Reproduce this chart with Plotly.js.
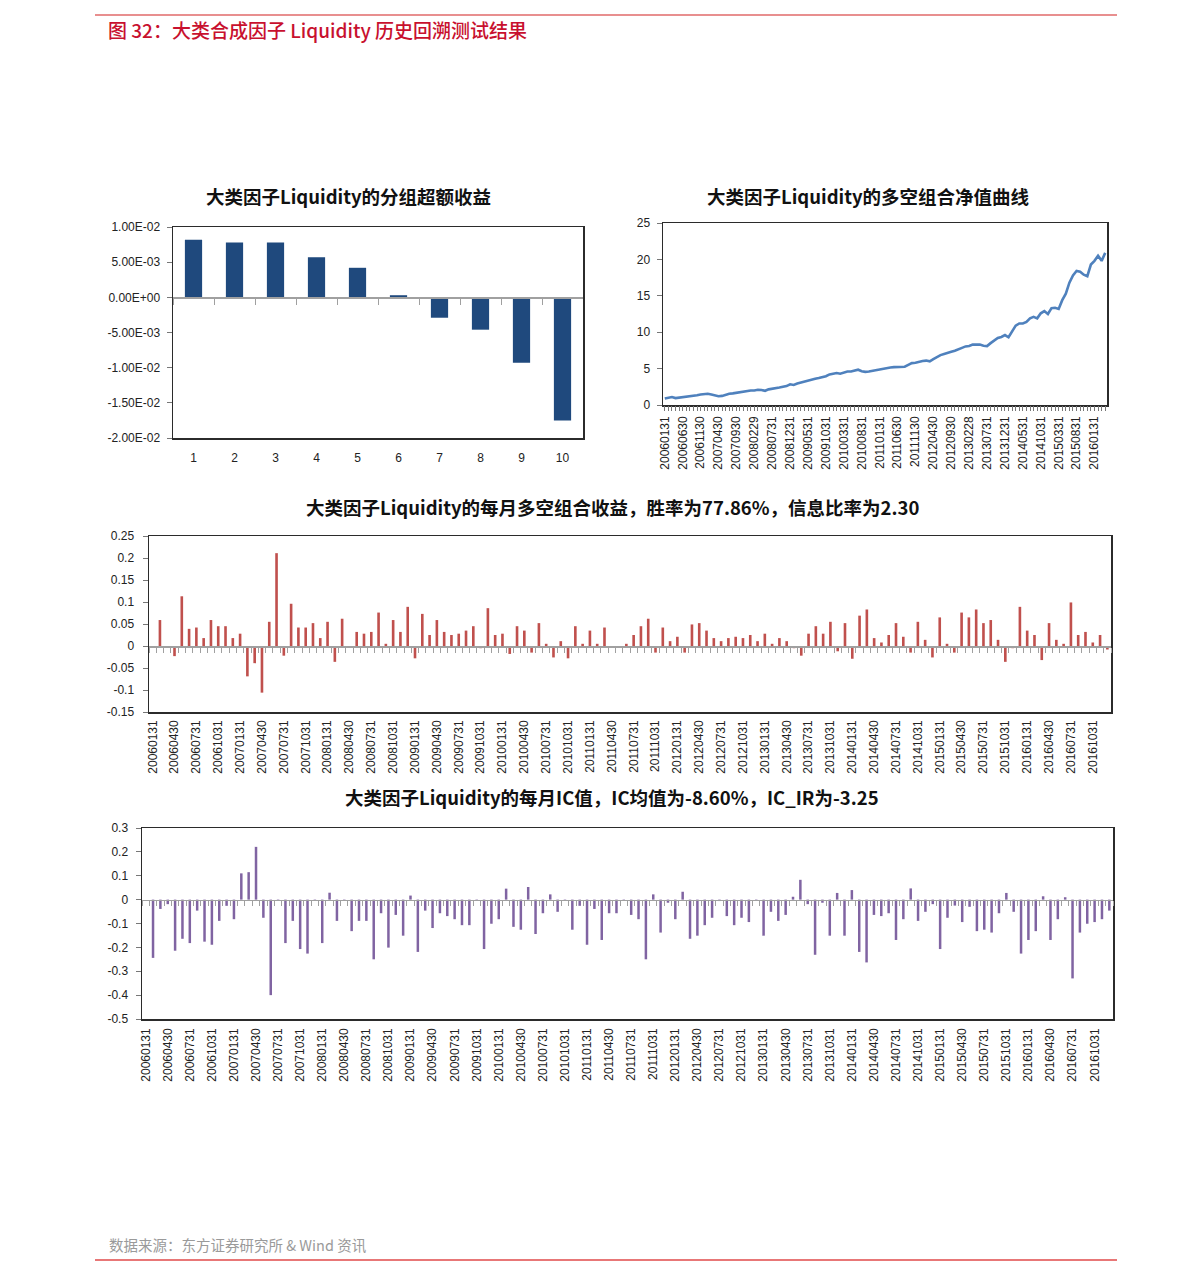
<!DOCTYPE html>
<html><head><meta charset="utf-8">
<script src="https://cdn.plot.ly/plotly-3.0.1.min.js"></script>
<style>html,body{margin:0;padding:0;background:#fff}#chart{width:1191px;height:1273px}</style>
</head><body><div id="chart"></div>
<script>
// ---------------- data ----------------
const groupLabels = ['1','2','3','4','5','6','7','8','9','10'];
const groupExcess = [0.0082, 0.0078, 0.0078, 0.0057, 0.0042, 0.0003, -0.0029, -0.0046, -0.0093, -0.0175];
const groupTickVals = [0.01, 0.005, 0, -0.005, -0.01, -0.015, -0.02];
const groupTickText = ['1.00E-02','5.00E-03','0.00E+00','-5.00E-03','-1.00E-02','-1.50E-02','-2.00E-02'];

const navValues = [
 0.9,1.0,1.1,0.95,1.0,1.1,1.15,1.2,1.3,1.35,
 1.45,1.5,1.55,1.45,1.3,1.2,1.25,1.45,1.55,1.6,
 1.7,1.75,1.9,1.95,2.0,2.0,2.1,2.05,1.95,2.15,
 2.2,2.25,2.4,2.5,2.6,2.85,2.75,2.95,3.1,3.25,
 3.35,3.45,3.6,3.7,3.8,3.95,4.2,4.3,4.4,4.3,
 4.45,4.6,4.6,4.75,4.85,4.65,4.55,4.6,4.7,4.85,
 4.85,4.95,5.05,5.15,5.2,5.2,5.2,5.25,5.5,5.75,
 5.8,5.95,6.05,6.1,6.0,6.3,6.6,6.85,7.0,7.1,
 7.3,7.45,7.6,7.85,8.05,8.1,8.3,8.35,8.3,8.15,
 8.1,8.5,8.85,9.2,9.35,9.6,9.3,10.2,10.9,11.2,
 11.2,11.4,11.9,12.1,11.9,12.6,12.9,12.5,13.3,13.35,
 13.2,14.4,15.3,16.8,17.8,18.4,18.3,17.9,17.7,19.3,
 19.8,20.5,19.8,20.9
];
const navTickVals = [0,5,10,15,20,25];
const navTickText = ['0','5','10','15','20','25'];

const monthlyReturn = [null,
 0.059,0.0,-0.023,0.113,0.039,0.042,0.018,0.059,0.045,0.045,
 0.018,0.028,-0.069,-0.039,-0.106,0.055,0.211,-0.022,0.096,0.042,
 0.042,0.052,0.018,0.055,-0.036,0.062,0.0,0.032,0.028,0.032,
 0.076,0.005,0.059,0.032,0.089,-0.028,0.073,0.025,0.059,0.032,
 0.025,0.028,0.035,0.045,-0.005,0.086,0.025,0.028,-0.018,0.045,
 0.035,-0.015,0.052,0.005,-0.026,0.011,-0.028,0.045,0.005,0.035,
 0.005,0.042,0.0,0.0,0.005,0.025,0.045,0.062,-0.015,0.042,
 0.011,0.021,-0.015,0.049,0.052,0.035,0.018,0.011,0.018,0.021,
 0.018,0.025,0.011,0.028,0.005,0.018,0.011,-0.005,-0.022,0.028,
 0.045,0.028,0.055,-0.012,0.052,-0.029,0.069,0.083,0.018,0.008,
 0.025,0.052,0.021,-0.015,0.055,0.014,-0.026,0.065,0.005,-0.015,
 0.076,0.065,0.083,0.052,0.059,0.014,-0.036,-0.005,0.089,0.035,
 0.025,-0.032,0.052,0.014,0.005,0.099,0.025,0.032,0.008,0.025,-0.008
];
const retTickVals = [0.25,0.2,0.15,0.1,0.05,0,-0.05,-0.1,-0.15];
const retTickText = ['0.25','0.2','0.15','0.1','0.05','0','-0.05','-0.1','-0.15'];

const monthlyIC = [null,
 -0.244,-0.039,-0.019,-0.214,-0.164,-0.182,-0.046,-0.176,-0.189,-0.089,
 -0.026,-0.082,0.110,0.115,0.221,-0.076,-0.400,-0.005,-0.182,-0.089,
 -0.207,-0.226,-0.005,-0.182,0.029,-0.089,-0.005,-0.132,-0.089,-0.089,
 -0.250,-0.057,-0.201,-0.064,-0.151,0.017,-0.219,-0.046,-0.119,-0.057,
 -0.069,-0.082,-0.107,-0.107,-0.005,-0.207,-0.101,-0.082,0.046,-0.114,
 -0.126,0.053,-0.144,-0.057,0.022,-0.051,-0.005,-0.126,-0.026,-0.189,
 -0.039,-0.169,-0.057,-0.057,-0.005,-0.064,-0.082,-0.250,0.022,-0.138,
 -0.013,-0.082,0.033,-0.164,-0.151,-0.107,-0.076,-0.006,-0.069,-0.107,
 -0.076,-0.094,-0.003,-0.151,-0.051,-0.089,-0.064,0.012,0.083,-0.019,
 -0.231,-0.013,-0.151,0.028,-0.151,0.040,-0.219,-0.263,-0.064,-0.069,
 -0.057,-0.169,-0.082,0.047,-0.089,-0.051,-0.019,-0.207,-0.076,-0.025,
 -0.094,-0.030,-0.132,-0.126,-0.138,-0.057,0.028,-0.051,-0.226,-0.169,
 -0.132,0.014,-0.169,-0.082,0.010,-0.330,-0.138,-0.101,-0.094,-0.082,-0.046
];
const icTickVals = [0.3,0.2,0.1,0,-0.1,-0.2,-0.3,-0.4,-0.5];
const icTickText = ['0.3','0.2','0.1','0','-0.1','-0.2','-0.3','-0.4','-0.5'];

function monthEnds(startYear, n) {
  const out = [];
  for (let k = 0; k < n; k++) {
    const y = startYear + Math.floor(k / 12);
    const m = k % 12 + 1;
    const d = new Date(Date.UTC(y, m, 0)).getUTCDate();
    out.push(String(y) + String(m).padStart(2, '0') + String(d).padStart(2, '0'));
  }
  return out;
}
const navDates = monthEnds(2006, navValues.length);
const monthDates = monthEnds(2006, monthlyReturn.length);

const titles = {
  header: '图 32：大类合成因子 Liquidity 历史回溯测试结果',
  c1: '大类因子Liquidity的分组超额收益',
  c2: '大类因子Liquidity的多空组合净值曲线',
  c3: '大类因子Liquidity的每月多空组合收益，胜率为77.86%，信息比率为2.30',
  c4: '大类因子Liquidity的每月IC值，IC均值为-8.60%，IC_IR为-3.25',
  source: '数据来源：东方证券研究所 &amp; Wind 资讯'
};

// ---------------- layout helpers ----------------
const W = 1191, H = 1273;
const fx = px => px / W;
const fy = py => 1 - py / H;
const zeroPos = (dom, rng) => dom[0] + (0 - rng[0]) / (rng[1] - rng[0]) * (dom[1] - dom[0]);

const d1x = [fx(173), fx(583)], d1y = [fy(438), fy(227)], r1 = [-0.02, 0.01];
const d2x = [fx(663), fx(1107)], d2y = [fy(405), fy(223)], r2 = [0, 25];
const d3x = [fx(149), fx(1111)], d3y = [fy(712), fy(536)], r3 = [-0.15, 0.25];
const d4x = [fx(142), fx(1113)], d4y = [fy(1019), fy(828)], r4 = [-0.5, 0.3];

const FRAME = '#2b2b2b', AXGRAY = '#a0a0a0';
const tickFont = {family: 'Liberation Sans, Arial, sans-serif', size: 12, color: '#222'};

function frameX(dom, anchor, extra) {
  return Object.assign({domain: dom, anchor: anchor, type: 'category', showline: true, linecolor: FRAME,
    linewidth: 1.5, mirror: true, ticks: '', showgrid: false, zeroline: false, fixedrange: true,
    tickfont: tickFont}, extra);
}
function frameY(dom, anchor, rng, tv, tt, extra) {
  return Object.assign({domain: dom, anchor: anchor, range: rng, tickmode: 'array', tickvals: tv, ticktext: tt,
    showline: true, linecolor: FRAME, linewidth: 1.5, mirror: true, ticks: 'outside', ticklen: 5,
    tickcolor: '#777', showgrid: false, zeroline: false, fixedrange: true, tickfont: tickFont,
    ticklabelstandoff: 3}, extra);
}
function zeroAxis(over, dom, pos, extra) {
  return Object.assign({overlaying: over, anchor: 'free', position: pos, domain: dom, type: 'category',
    showline: true, linecolor: AXGRAY, linewidth: 1.5, ticks: 'outside', ticklen: 5, tickcolor: AXGRAY,
    tickson: 'boundaries', dtick: 1, showticklabels: false, showgrid: false, zeroline: false, fixedrange: true}, extra);
}

const clear = 'rgba(0,0,0,0)';
const traces = [
  // chart 1
  {type: 'bar', x: groupLabels, y: groupExcess, xaxis: 'x5', yaxis: 'y', width: 0.42,
   marker: {color: '#1f497d'}, hoverinfo: 'skip'},
  {type: 'bar', x: groupLabels, y: groupExcess, xaxis: 'x', yaxis: 'y', width: 0.42,
   marker: {color: clear}, hoverinfo: 'skip'},
  // chart 2
  {type: 'scatter', mode: 'lines', x: navDates, y: navValues, xaxis: 'x2', yaxis: 'y2',
   line: {color: '#4f81bd', width: 2.6}, hoverinfo: 'skip'},
  {type: 'scatter', mode: 'lines', x: navDates, y: navValues, xaxis: 'x6', yaxis: 'y2',
   line: {color: clear, width: 0}, hoverinfo: 'skip'},
  // chart 3
  {type: 'bar', x: monthDates, y: monthlyReturn, xaxis: 'x7', yaxis: 'y3', width: 0.36,
   marker: {color: '#c0504d'}, hoverinfo: 'skip'},
  {type: 'bar', x: monthDates, y: monthlyReturn, xaxis: 'x3', yaxis: 'y3', width: 0.36,
   marker: {color: clear}, hoverinfo: 'skip'},
  // chart 4
  {type: 'bar', x: monthDates, y: monthlyIC, xaxis: 'x8', yaxis: 'y4', width: 0.34,
   marker: {color: '#8064a2'}, hoverinfo: 'skip'},
  {type: 'bar', x: monthDates, y: monthlyIC, xaxis: 'x4', yaxis: 'y4', width: 0.34,
   marker: {color: clear}, hoverinfo: 'skip'}
];

const titleFont = {family: 'Noto Sans CJK SC, sans-serif', size: 18.5, color: '#111'};
function title(text, cx, cy) {
  return {text: '<b>' + text + '</b>', x: fx(cx), y: fy(cy), xref: 'paper', yref: 'paper',
    xanchor: 'center', yanchor: 'middle', showarrow: false, font: titleFont};
}

const layout = {
  width: W, height: H, margin: {l: 0, r: 0, t: 0, b: 0},
  paper_bgcolor: '#fff', plot_bgcolor: '#fff', showlegend: false, hovermode: false,
  barmode: 'overlay',
  font: {family: 'Liberation Sans, Arial, sans-serif', size: 12, color: '#222'},

  xaxis: frameX(d1x, 'y', {ticklabelstandoff: 8}),
  yaxis: frameY(d1y, 'x', r1, groupTickVals, groupTickText, {ticklabelstandoff: 4}),
  xaxis5: zeroAxis('x', d1x, zeroPos(d1y, r1), {ticklen: 6}),

  xaxis2: frameX(d2x, 'y2', {range: [-0.5, navValues.length - 0.5], dtick: 5, tick0: 0, tickangle: -90,
    ticklabelstandoff: 5}),
  yaxis2: frameY(d2y, 'x2', r2, navTickVals, navTickText, {ticklabelstandoff: 4}),
  xaxis6: {overlaying: 'x2', anchor: 'y2', domain: d2x, type: 'category', range: [-0.5, navValues.length - 0.5],
    showline: false, ticks: 'outside', ticklen: 5, tickcolor: '#777', dtick: 1, showticklabels: false,
    showgrid: false, zeroline: false, fixedrange: true},

  xaxis3: frameX(d3x, 'y3', {range: [-0.5, monthDates.length - 0.5], dtick: 3, tick0: 0, tickangle: -90,
    ticklabelstandoff: 2}),
  yaxis3: frameY(d3y, 'x3', r3, retTickVals, retTickText, {ticklabelstandoff: 6}),
  xaxis7: zeroAxis('x3', d3x, zeroPos(d3y, r3), {range: [-0.5, monthDates.length - 0.5]}),

  xaxis4: frameX(d4x, 'y4', {range: [-0.5, monthDates.length - 0.5], dtick: 3, tick0: 0, tickangle: -90,
    ticklabelstandoff: 3}),
  yaxis4: frameY(d4y, 'x4', r4, icTickVals, icTickText, {ticklabelstandoff: 5}),
  xaxis8: zeroAxis('x4', d4x, zeroPos(d4y, r4), {range: [-0.5, monthDates.length - 0.5]}),

  annotations: [
    {text: titles.header, x: fx(106), y: fy(30), xref: 'paper', yref: 'paper', xanchor: 'left', yanchor: 'middle',
     showarrow: false, font: {family: 'Noto Sans CJK SC, sans-serif', size: 19, color: '#c8102e', weight: 500}},
    title(titles.c1, 348, 196),
    title(titles.c2, 868, 196),
    title(titles.c3, 612, 507),
    title(titles.c4, 612, 797),
    {text: titles.source, x: fx(107), y: fy(1244), xref: 'paper', yref: 'paper', xanchor: 'left', yanchor: 'middle',
     showarrow: false, font: {family: 'Noto Sans CJK SC, sans-serif', size: 14.5, color: '#9a9a9a'}}
  ],
  shapes: [
    {type: 'line', xref: 'paper', yref: 'paper', x0: fx(95), x1: fx(1117), y0: fy(15), y1: fy(15),
     line: {color: '#e06a6a', width: 1.5}},
    {type: 'line', xref: 'paper', yref: 'paper', x0: fx(95), x1: fx(1117), y0: fy(1260), y1: fy(1260),
     line: {color: '#e04a4a', width: 1.5}}
  ]
};

Plotly.newPlot('chart', traces, layout, {displayModeBar: false, staticPlot: true});
</script>
</body></html>
